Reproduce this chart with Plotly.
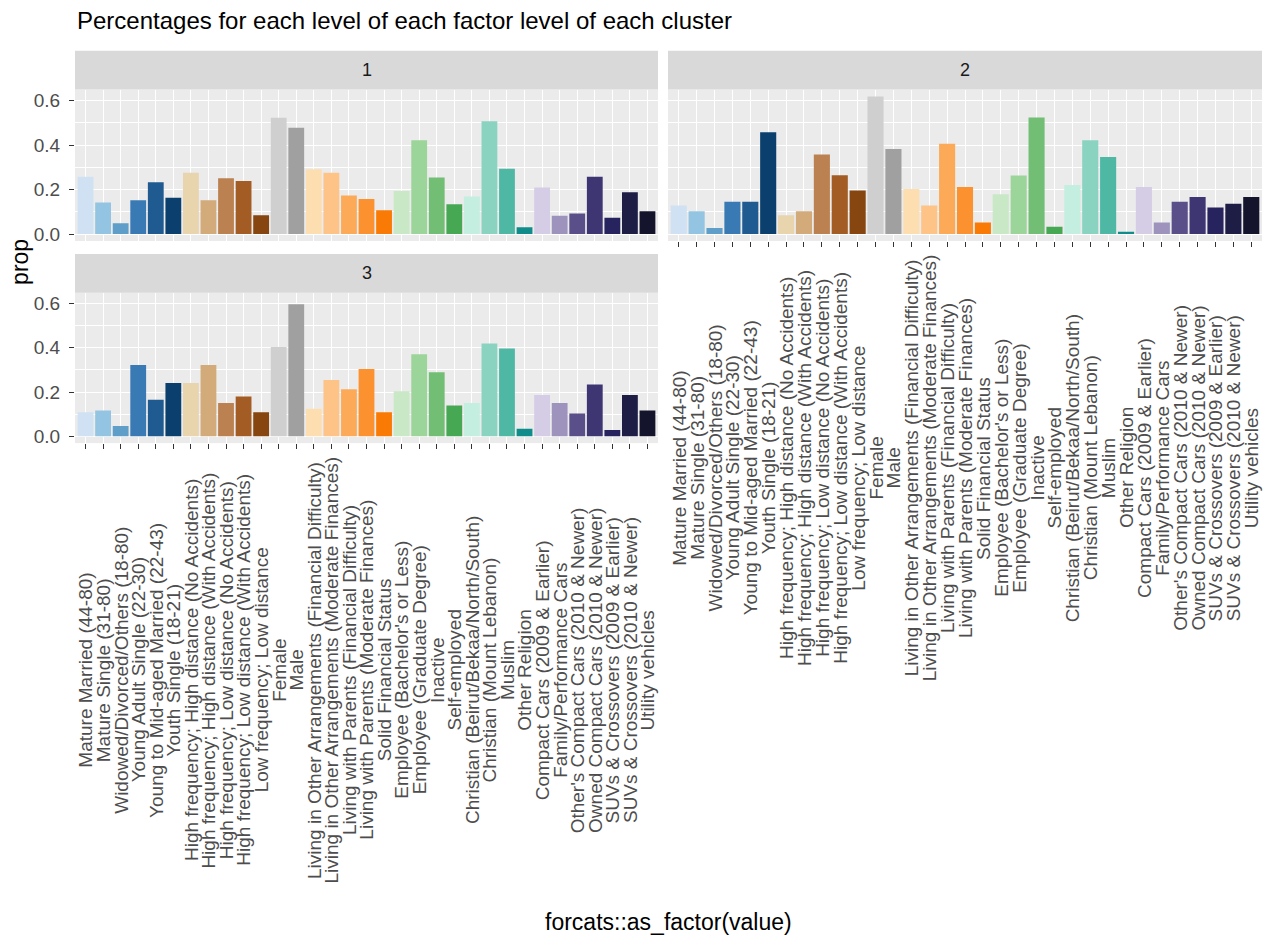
import plotly.graph_objects as go

# categories (factor levels in order)
levels = [
    "Mature Married (44-80)", "Mature Single (31-80)", "Widowed/Divorced/Others (18-80)",
    "Young Adult Single (22-30)", "Young to Mid-aged Married (22-43)", "Youth Single (18-21)",
    "High frequency; High distance (No Accidents)", "High frequency; High distance (With Accidents)",
    "High frequency; Low distance (No Accidents)", "High frequency; Low distance (With Accidents)",
    "Low frequency; Low distance",
    "Female", "Male",
    "Living in Other Arrangements (Financial Difficulty)", "Living in Other Arrangements (Moderate Finances)",
    "Living with Parents (Financial Difficulty)", "Living with Parents (Moderate Finances)",
    "Solid Financial Status",
    "Employee (Bachelor's or Less)", "Employee (Graduate Degree)", "Inactive", "Self-employed",
    "Christian (Beirut/Bekaa/North/South)", "Christian (Mount Lebanon)", "Muslim", "Other Religion",
    "Compact Cars (2009 & Earlier)", "Family/Performance Cars", "Other's Compact Cars (2010 & Newer)",
    "Owned Compact Cars (2010 & Newer)", "SUVs & Crossovers (2009 & Earlier)",
    "SUVs & Crossovers (2010 & Newer)", "Utility vehicles",
]

# proportions per cluster
cluster1 = [0.257, 0.142, 0.049, 0.152, 0.233, 0.163,
            0.275, 0.152, 0.251, 0.239, 0.085,
            0.522, 0.478,
            0.291, 0.275, 0.173, 0.158, 0.107,
            0.193, 0.421, 0.254, 0.134,
            0.169, 0.507, 0.294, 0.031,
            0.209, 0.082, 0.093, 0.258, 0.073, 0.188, 0.103]
cluster2 = [0.128, 0.103, 0.027, 0.145, 0.145, 0.457,
            0.085, 0.103, 0.357, 0.264, 0.196,
            0.618, 0.382,
            0.203, 0.128, 0.406, 0.212, 0.052,
            0.179, 0.263, 0.524, 0.033,
            0.221, 0.422, 0.346, 0.010,
            0.212, 0.052, 0.145, 0.167, 0.119, 0.136, 0.167]
cluster3 = [0.109, 0.117, 0.046, 0.322, 0.165, 0.241,
            0.241, 0.322, 0.151, 0.180, 0.109,
            0.404, 0.597,
            0.124, 0.254, 0.213, 0.304, 0.109,
            0.204, 0.371, 0.289, 0.139,
            0.151, 0.419, 0.397, 0.034,
            0.187, 0.151, 0.103, 0.234, 0.028, 0.187, 0.117]

y_ticks = [0.0, 0.2, 0.4, 0.6]

# fill colour of every level
colors = [
    "#cfe1f2", "#93c4e1", "#5e9ec9", "#3a7ab4", "#1f5a91", "#0b406e",
    "#e8d4ad", "#d3aa7a", "#bc8150", "#a35d24", "#87450f",
    "#cfcfcf", "#a0a0a0",
    "#fddeb0", "#fdc387", "#fdaa58", "#fc922f", "#fa7a06",
    "#c9e8c5", "#9cd59a", "#72be75", "#47a854",
    "#c4eee0", "#8ad3c0", "#4eb8a5", "#108c8a",
    "#d5cce6", "#9d93bd", "#5b4f89", "#3e3573", "#27235e", "#1e1d45", "#14142d",
]

W, H = 1270, 942


def px(x):
    return x / W


def py(y):
    return 1 - y / H


# panel boxes in pixels: (left, right, top, bottom)
panels = {
    1: (75, 658, 90, 242),
    2: (668, 1262, 90, 242),
    3: (75, 658, 294, 445),
}
strip_h = 39
data = {1: cluster1, 2: cluster2, 3: cluster3}

fig = go.Figure()
ymax = max(cluster1 + cluster2 + cluster3)
yrange = [-0.05 * ymax, ymax * 1.05]

for k, (l, r, t, b) in panels.items():
    sfx = "" if k == 1 else str(k)
    fig.add_trace(go.Bar(x=levels, y=data[k], marker_color=colors,
                         marker_line_width=0, xaxis="x" + sfx, yaxis="y" + sfx,
                         showlegend=False))
    bottom_panel = k in (2, 3)
    left_panel = k in (1, 3)
    fig.layout["xaxis" + sfx] = dict(
        domain=[px(l), px(r)], anchor="y" + sfx, type="category",
        categoryorder="array", categoryarray=levels,
        range=[-0.6, len(levels) - 0.4],
        showgrid=True, gridcolor="white", gridwidth=1.1,
        showticklabels=False, zeroline=False, showline=False,
        ticks="outside" if bottom_panel else "", ticklen=5, tickcolor="#333333",
    )
    fig.layout["yaxis" + sfx] = dict(
        domain=[py(b), py(t)], anchor="x" + sfx, range=yrange,
        tickvals=y_ticks, ticktext=["%.1f" % v for v in y_ticks],
        showticklabels=left_panel, ticklabelstandoff=5,
        tickfont=dict(size=19, color="#4d4d4d"),
        ticks="outside" if left_panel else "", ticklen=5, tickcolor="#333333",
        showgrid=True, gridcolor="white", gridwidth=1.1, zeroline=False,
        minor=dict(dtick=0.1, tick0=0, showgrid=True, gridcolor="white",
                   gridwidth=0.5, ticks=""),
    )
    # strip
    fig.add_shape(type="rect", xref="paper", yref="paper",
                  x0=px(l), x1=px(r), y0=py(t), y1=py(t - strip_h),
                  fillcolor="#d9d9d9", line_width=0, layer="below")
    fig.add_annotation(x=px((l + r) / 2), y=py(t - strip_h / 2), xref="paper", yref="paper",
                       xanchor="center", yanchor="middle",
                       text=str(k), showarrow=False, font=dict(size=18, color="#1a1a1a"))
    # rotated x labels, centred like ggplot's angle = 90
    if bottom_panel:
        cy = b + 228
        for lev in levels:
            fig.add_annotation(x=lev, xref="x" + sfx, y=py(cy), yref="paper",
                               text=lev, textangle=-90, showarrow=False,
                               xanchor="center", yanchor="middle",
                               font=dict(size=19, color="#4d4d4d"))

fig.add_annotation(x=px(75), y=py(21), xref="paper", yref="paper", xanchor="left",
                   yanchor="middle", showarrow=False,
                   text="Percentages for each level of each factor level of each cluster",
                   font=dict(size=24, color="black"))
fig.add_annotation(x=px(20), y=py(263), xref="paper", yref="paper", textangle=-90,
                   xanchor="center", yanchor="middle",
                   showarrow=False, text="prop", font=dict(size=23, color="black"))
fig.add_annotation(x=px(668), y=py(926), xref="paper", yref="paper",
                   xanchor="center", yanchor="middle",
                   showarrow=False, text="forcats::as_factor(value)",
                   font=dict(size=23, color="black"))

fig.update_layout(
    width=W, height=H,
    margin=dict(l=0, r=0, t=0, b=0),
    plot_bgcolor="#ebebeb", paper_bgcolor="white",
    bargap=0.1,
    font=dict(family="Liberation Sans, Arial, sans-serif"),
)

# drop the default page margin so the figure sits at the window corner
fig.write_html("out.html", config={"displayModeBar": False},
               post_script="document.body.style.margin='0px';")
